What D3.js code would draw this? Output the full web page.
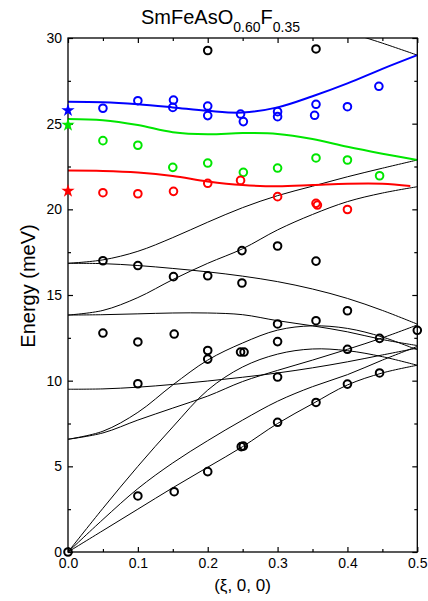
<!DOCTYPE html>
<html><head><meta charset="utf-8">
<script src="https://cdn.jsdelivr.net/npm/d3@7"></script>
<style>body{margin:0;background:#fff}svg{display:block;font-family:"Liberation Sans",Arial,sans-serif}</style>
</head><body><svg id="c" width="428" height="601"></svg>
<script>
// ---- data ----
const xGrid = [0, 0.05, 0.1, 0.15, 0.2, 0.25, 0.3, 0.35, 0.4, 0.45, 0.5];
// black calculated branches (energies at xGrid)
const bandA = [0, 1.25, 2.5, 3.75, 4.95, 6.15, 7.5, 8.65, 9.75, 10.45, 10.9];
const bandB = [0, 1.9, 3.7, 5.2, 6.5, 7.7, 8.8, 9.65, 10.35, 11.2, 12.0];
const bandC = [0, 2.55, 5.0, 7.3, 9.45, 10.8, 11.55, 11.85, 11.75, 11.4, 10.9];
const bandH = [6.58, 7.05, 8.15, 9.75, 11.2, 12.2, 12.95, 13.2, 13.05, 12.55, 11.8];
const bandI = [6.58, 6.95, 7.7, 8.4, 9.1, 9.95, 10.6, 11.2, 11.83, 12.5, 13.25];
const bandJ = [9.5, 9.52, 9.62, 9.78, 9.98, 10.2, 10.45, 10.75, 11.1, 11.5, 11.9];
const bandG = [13.83, 13.85, 13.9, 13.95, 13.95, 13.85, 13.5, 13.2, 12.85, 12.4, 12.05];
const bandF = [13.83, 14.1, 14.85, 15.9, 16.85, 17.7, 18.8, 19.7, 20.45, 20.95, 21.32];
const bandD = [16.85, 16.83, 16.72, 16.55, 16.35, 16.1, 15.78, 15.35, 14.8, 14.1, 13.3];
const bandE = [16.85, 17.05, 17.55, 18.35, 19.25, 20.1, 20.8, 21.35, 21.9, 22.4, 22.88];
const topX = [0.4, 0.45, 0.5];
const topE = [30.35, 29.7, 29.0];
// coloured branches
const blueE  = [26.28, 26.25, 26.13, 25.95, 25.75, 25.65, 25.95, 26.6, 27.35, 28.2, 29.0];
const greenE = [25.27, 25.2, 24.92, 24.5, 24.38, 24.45, 24.4, 24.1, 23.65, 23.25, 22.88];
const redX   = [0, 0.05, 0.1, 0.15, 0.2, 0.25, 0.3, 0.35, 0.4, 0.45, 0.49];
const redE   = [22.26, 22.24, 22.15, 21.95, 21.63, 21.42, 21.35, 21.42, 21.5, 21.5, 21.36];
// measured points
const blackQ = [0, 0.05, 0.1, 0.151, 0.2, 0.249, 0.249, 0.3, 0.355, 0.4, 0.355, 0.3, 0.3, 0.446, 0.5, 0.4, 0.05, 0.1, 0.152, 0.2, 0.2, 0.247, 0.252, 0.3, 0.1, 0.446, 0.4, 0.355, 0.3, 0.248, 0.251, 0.2, 0.152, 0.1, 0.2, 0.355];
const blackE = [0, 17.0, 16.72, 16.07, 16.12, 15.7, 17.59, 17.86, 16.98, 14.08, 13.5, 13.31, 12.28, 12.47, 12.94, 11.83, 12.78, 12.26, 12.72, 11.76, 11.26, 11.67, 11.67, 10.21, 9.82, 10.45, 9.8, 8.73, 7.57, 6.15, 6.18, 4.69, 3.52, 3.27, 29.27, 29.36];
const blueQ = [0.05, 0.1, 0.151, 0.15, 0.2, 0.2, 0.247, 0.251, 0.3, 0.3, 0.355, 0.353, 0.4, 0.445];
const blueP = [25.9, 26.34, 26.38, 25.95, 26.03, 25.47, 25.56, 25.12, 25.7, 25.41, 26.13, 25.49, 25.99, 27.18];
const greenQ = [0.05, 0.1, 0.15, 0.2, 0.251, 0.3, 0.355, 0.4, 0.446];
const greenP = [24.01, 23.74, 22.45, 22.7, 22.16, 22.41, 23.0, 22.88, 21.96];
const redQ = [0.05, 0.1, 0.151, 0.2, 0.247, 0.3, 0.355, 0.357, 0.4];
const redP = [20.97, 20.91, 21.05, 21.52, 21.69, 20.74, 20.35, 20.25, 19.99];
const starE = [25.78, 24.92, 21.07];
const starColors = ["#0000ff", "#00e600", "#ff0000"];
const xTicks = [0, 0.1, 0.2, 0.3, 0.4, 0.5];
const xMinor = [0.05, 0.15, 0.25, 0.35, 0.45];
const yTicks = [0, 5, 10, 15, 20, 25, 30];
const yMinor = [2.5, 7.5, 12.5, 17.5, 22.5, 27.5];

// ---- layout ----
const L = 68, R = 417.3, T = 38, B = 552;
const svg = d3.select("#c");
const x = d3.scaleLinear().domain([0, 0.5]).range([L, R]);
const y = d3.scaleLinear().domain([0, 30]).range([B, T]);

svg.append("defs").append("clipPath").attr("id", "clip")
  .append("rect").attr("x", L).attr("y", T).attr("width", R - L).attr("height", B - T);

const line = d3.line().x(d => x(d[0])).y(d => y(d[1])).curve(d3.curveCatmullRom.alpha(0.5));
const zipXY = (xs, ys) => xs.map((v, i) => [v, ys[i]]);

const gc = svg.append("g").attr("clip-path", "url(#clip)");
[bandA, bandB, bandC, bandH, bandI, bandJ, bandG, bandF, bandD, bandE].forEach(b => {
  gc.append("path").attr("d", line(zipXY(xGrid, b))).attr("fill", "none").attr("stroke", "#000").attr("stroke-width", 1);
});
gc.append("path").attr("d", line(zipXY(topX, topE))).attr("fill", "none").attr("stroke", "#000").attr("stroke-width", 1);
gc.append("path").attr("d", line(zipXY(xGrid, blueE))).attr("fill", "none").attr("stroke", "#0000ff").attr("stroke-width", 2);
gc.append("path").attr("d", line(zipXY(xGrid, greenE))).attr("fill", "none").attr("stroke", "#00e600").attr("stroke-width", 2);
gc.append("path").attr("d", line(zipXY(redX, redE))).attr("fill", "none").attr("stroke", "#ff0000").attr("stroke-width", 2);

// axes
function addAxis(axis, tr, vals, size, labels) {
  const a = axis.tickValues(vals).tickSizeInner(-size).tickSizeOuter(0).tickPadding(6);
  if (!labels) a.tickFormat("");
  else a.tickFormat(labels);
  const g = svg.append("g").attr("transform", tr).call(a);
  g.select(".domain").remove();
  g.selectAll("line").attr("stroke", "#000").attr("stroke-width", 1.2);
  g.selectAll("text").attr("font-size", 14).attr("fill", "#000").attr("font-family", '"Liberation Sans",Arial,sans-serif');
  return g;
}
addAxis(d3.axisBottom(x), `translate(0,${B})`, xTicks, 5, d3.format(".1f"));
addAxis(d3.axisBottom(x), `translate(0,${B})`, xMinor, 3, null);
addAxis(d3.axisTop(x), `translate(0,${T})`, xTicks, 5, null);
addAxis(d3.axisTop(x), `translate(0,${T})`, xMinor, 3, null);
addAxis(d3.axisLeft(y), `translate(${L},0)`, yTicks, 5, d3.format("d"));
addAxis(d3.axisLeft(y), `translate(${L},0)`, yMinor, 3, null);
addAxis(d3.axisRight(y), `translate(${R},0)`, yTicks, 5, null);
addAxis(d3.axisRight(y), `translate(${R},0)`, yMinor, 3, null);

svg.append("rect").attr("x", L).attr("y", T).attr("width", R - L).attr("height", B - T)
  .attr("fill", "none").attr("stroke", "#000").attr("stroke-width", 1.3);

// points
function circles(qs, es, col) {
  svg.append("g").selectAll("circle").data(zipXY(qs, es)).join("circle")
    .attr("cx", d => x(d[0])).attr("cy", d => y(d[1])).attr("r", 3.8)
    .attr("fill", "none").attr("stroke", col).attr("stroke-width", 2);
}
circles(blackQ, blackE, "#000");
circles(blueQ, blueP, "#0000ff");
circles(greenQ, greenP, "#00e600");
circles(redQ, redP, "#ff0000");

svg.append("g").selectAll("path").data(starE).join("path")
  .attr("d", d3.symbol().type(d3.symbolStar).size(55))
  .attr("transform", d => `translate(${x(0)},${y(d)})`)
  .attr("fill", (d, i) => starColors[i]);

// title
const t = svg.append("text").attr("x", 220.5).attr("y", 24).attr("text-anchor", "middle").attr("font-size", 20).attr("fill", "#000");
t.append("tspan").text("SmFeAsO");
t.append("tspan").attr("font-size", 14).attr("dy", 8).text("0.60");
t.append("tspan").attr("dy", -8).text("F");
t.append("tspan").attr("font-size", 14).attr("dy", 8).text("0.35");

svg.append("text").attr("transform", "translate(35,286) rotate(-90)").attr("text-anchor", "middle")
  .attr("font-size", 20).attr("fill", "#000").text("Energy (meV)");
svg.append("text").attr("x", 242.5).attr("y", 591).attr("text-anchor", "middle")
  .attr("font-size", 17).attr("fill", "#000").text("(ξ, 0, 0)");
</script></body></html>
